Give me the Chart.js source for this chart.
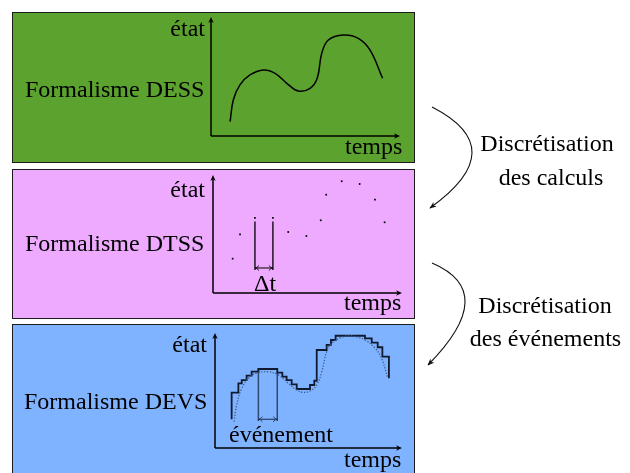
<!DOCTYPE html>
<html>
<head>
<meta charset="utf-8">
<script src="https://cdn.jsdelivr.net/npm/chart.js@4"></script>
<style>
  html, body { margin:0; padding:0; background:#ffffff; }
  body { width:630px; height:473px; position:relative; overflow:hidden; }
  .panel { position:absolute; box-sizing:border-box; border:1.5px solid #1c1c1c; }
  .box { position:absolute; }
  svg, #overlay { position:absolute; left:0; top:0; }
</style>
</head>
<body>
<div class="panel" style="left:12px;top:12px;width:403px;height:151px;background:#5ca22f;"></div>
<div class="panel" style="left:12px;top:168.5px;width:403px;height:150px;background:#eeaaff;"></div>
<div class="panel" style="left:12px;top:324px;width:403px;height:160px;background:#80b3ff;"></div>

<div class="box" style="left:205px;top:11px;width:201px;height:131px;"><canvas id="c1"></canvas></div>
<div class="box" style="left:207px;top:169px;width:201px;height:130px;"><canvas id="c2"></canvas></div>
<div class="box" style="left:209px;top:327px;width:199px;height:127px;"><canvas id="c3"></canvas></div>

<svg width="630" height="473" viewBox="0 0 630 473">
  <defs>
    <marker id="ah" viewBox="0 0 10 10" refX="9" refY="5" markerWidth="7" markerHeight="7" orient="auto" markerUnits="userSpaceOnUse">
      <path d="M0,1 L10,5 L0,9 L3,5 Z" fill="#111"/>
    </marker>
  </defs>
  <path d="M432,107 Q513,148.5 430,208" fill="none" stroke="#111" stroke-width="1.1" marker-end="url(#ah)"/>
  <path d="M432,263 Q500,292 428,365" fill="none" stroke="#111" stroke-width="1.1" marker-end="url(#ah)"/>
</svg>
<canvas id="overlay" width="630" height="473"></canvas>

<script>
// ---- DESS (continuous) ----
const dessTime  = [10.1, 11.8, 15.3, 20.6, 27.7, 33.9, 40.1, 46.2, 52.4, 56.2, 58.6, 62.1, 70.0, 77.9, 84.1, 90.8];
const dessState = [12.0, 30.3, 42.9, 51.3, 55.5, 52.7, 44.3, 37.8, 40.1, 48.5, 69.5, 80.7, 84.9, 82.1, 72.3, 48.5];

// ---- DTSS (sampled) ----
const dtssTime  = [10.4, 14.3, 22.2, 31.7, 39.8, 49.4, 57.0, 59.9, 68.1, 77.6, 85.7, 90.8];
const dtssState = [29.1, 49.7, 63.6, 63.6, 51.7, 48.3, 61.6, 83.3, 94.7, 92.4, 79.1, 59.9];
const dtMarkerTime = [22.2, 31.7];
const dtMarkerTop = 60.5, dtMarkerBottom = 19.5, dtArrowLevel = 21.2;

// ---- DEVS (events) ----
const devsCurveTime  = [10.2, 11.6, 14.3, 18.7, 23.2, 28.5, 33.9, 39.2, 43.7, 47.2, 50.8, 54.4, 57.1, 59.7, 62.4, 67.8, 73.1, 80.2, 85.6, 89.1, 92.4];
const devsCurveState = [22.9, 37.4, 51.9, 62.0, 65.5, 66.3, 63.5, 56.3, 50.4, 48.4, 49.6, 54.8, 66.3, 83.7, 91.0, 96.3, 97.4, 93.9, 86.7, 78.0, 60.6];
const devsStepTime  = [8.9, 8.9, 12.5, 14.3, 16.9, 19.6, 23.2, 33.3, 36.0, 38.3, 41.0, 43.7, 50.8, 53.1, 54.4, 59.7, 62.0, 64.5, 80.2, 83.8, 87.0, 89.5, 93.0];
const devsStepState = [25.0, 48.1, 56.2, 59.1, 62.9, 66.4, 68.7, 65.5, 62.0, 59.1, 55.4, 51.3, 54.8, 58.5, 85.2, 89.6, 93.9, 97.6, 95.4, 91.6, 87.6, 79.4, 60.6];
const eventMarkerTime = [23.2, 33.3];
const eventMarkerTop = [68.7, 65.5], eventMarkerBottom = 23.5, eventArrowLevel = 25.0;

// ---- Labels ----
const panelTitles = ['Formalisme DESS', 'Formalisme DTSS', 'Formalisme DEVS'];
const axisY = 'état', axisX = 'temps';
const stepLabels = [['Discrétisation', 'des calculs'], ['Discrétisation', 'des événements']];

const xy = (xs, ys) => xs.map((x, i) => ({x: x, y: ys[i]}));

function arrowHead(ctx, x, y, dir, size) {
  ctx.save();
  ctx.translate(x, y);
  ctx.rotate(dir);
  ctx.beginPath();
  ctx.moveTo(0, 0);
  ctx.lineTo(-size, -size * 0.45);
  ctx.lineTo(-size * 0.7, 0);
  ctx.lineTo(-size, size * 0.45);
  ctx.closePath();
  ctx.fill();
  ctx.restore();
}

const axesPlugin = {
  id: 'axesArrows',
  afterDraw(chart) {
    const {ctx, chartArea: a} = chart;
    ctx.save();
    ctx.strokeStyle = '#000';
    ctx.fillStyle = '#000';
    ctx.lineWidth = 1.5;
    ctx.beginPath();
    ctx.moveTo(a.left, a.bottom);
    ctx.lineTo(a.right - 2, a.bottom);
    ctx.moveTo(a.left, a.bottom);
    ctx.lineTo(a.left, a.top + 2);
    ctx.stroke();
    arrowHead(ctx, a.right, a.bottom, 0, 6);
    arrowHead(ctx, a.left, a.top, -Math.PI / 2, 6);
    ctx.restore();
  }
};

function markerPlugin(times, level, color) {
  return {
    id: 'markerArrows',
    afterDatasetsDraw(chart) {
      const {ctx, scales} = chart;
      const x1 = scales.x.getPixelForValue(times[0]);
      const x2 = scales.x.getPixelForValue(times[1]);
      const y = scales.y.getPixelForValue(level);
      ctx.save();
      ctx.strokeStyle = color;
      ctx.lineWidth = 1;
      ctx.beginPath();
      ctx.moveTo(x1 + 2, y);
      ctx.lineTo(x2 - 2, y);
      ctx.stroke();
      ctx.lineWidth = 0.9;
      ctx.beginPath();
      ctx.moveTo(x1 + 4, y - 2.5); ctx.quadraticCurveTo(x1 + 2, y, x1, y); ctx.quadraticCurveTo(x1 + 2, y, x1 + 4, y + 2.5);
      ctx.moveTo(x2 - 4, y - 2.5); ctx.quadraticCurveTo(x2 - 2, y, x2, y); ctx.quadraticCurveTo(x2 - 2, y, x2 - 4, y + 2.5);
      ctx.stroke();
      ctx.restore();
    }
  };
}

function baseOptions() {
  return {
    responsive: true,
    maintainAspectRatio: false,
    animation: false,
    events: [],
    layout: { padding: 6 },
    plugins: { legend: { display: false }, tooltip: { enabled: false } },
    scales: {
      x: { type: 'linear', min: 0, max: 100, display: false },
      y: { type: 'linear', min: 0, max: 100, display: false }
    }
  };
}

new Chart(document.getElementById('c1'), {
  type: 'line',
  data: { datasets: [{
    data: xy(dessTime, dessState),
    borderColor: '#000', borderWidth: 1.5, pointRadius: 0, tension: 0.4, fill: false
  }]},
  options: baseOptions(),
  plugins: [axesPlugin]
});

new Chart(document.getElementById('c2'), {
  type: 'line',
  data: { datasets: [
    { data: xy(dtssTime, dtssState), showLine: false, pointRadius: 1.2, pointStyle: 'rect',
      pointBackgroundColor: '#000', pointBorderColor: '#000', pointBorderWidth: 0 },
    { data: [{x: dtMarkerTime[0], y: dtMarkerTop}, {x: dtMarkerTime[0], y: dtMarkerBottom}],
      borderColor: '#000', borderWidth: 1.3, pointRadius: 0 },
    { data: [{x: dtMarkerTime[1], y: dtMarkerTop}, {x: dtMarkerTime[1], y: dtMarkerBottom}],
      borderColor: '#000', borderWidth: 1.3, pointRadius: 0 }
  ]},
  options: baseOptions(),
  plugins: [axesPlugin, markerPlugin(dtMarkerTime, dtArrowLevel, '#000')]
});

new Chart(document.getElementById('c3'), {
  type: 'line',
  data: { datasets: [
    { data: xy(devsCurveTime, devsCurveState), borderColor: '#3e5b8c', borderWidth: 1.3,
      borderDash: [1.3, 1.6], pointRadius: 0, tension: 0.4 },
    { data: xy(devsStepTime, devsStepState), borderColor: '#0f1a30', borderWidth: 1.8,
      pointRadius: 0, stepped: true },
    { data: [{x: eventMarkerTime[0], y: eventMarkerTop[0]}, {x: eventMarkerTime[0], y: eventMarkerBottom}],
      borderColor: '#2e4870', borderWidth: 1.5, pointRadius: 0 },
    { data: [{x: eventMarkerTime[1], y: eventMarkerTop[1]}, {x: eventMarkerTime[1], y: eventMarkerBottom}],
      borderColor: '#2e4870', borderWidth: 1.5, pointRadius: 0 }
  ]},
  options: baseOptions(),
  plugins: [axesPlugin, markerPlugin(eventMarkerTime, eventArrowLevel, '#1a2a48')]
});

// ---- text layer ----
const oc = document.getElementById('overlay').getContext('2d');
oc.fillStyle = '#000';
oc.textBaseline = 'alphabetic';
oc.font = '24px "Liberation Serif", "DejaVu Serif", serif';
function txt(s, x, y, align) { oc.textAlign = align || 'left'; oc.fillText(s, x, y); }
txt(panelTitles[0], 25, 97);
txt(panelTitles[1], 25, 251);
txt(panelTitles[2], 24, 409);
txt(axisY, 205, 36, 'right');
txt(axisY, 205, 197, 'right');
txt(axisY, 207, 352, 'right');
txt(axisX, 345, 154);
txt(axisX, 344, 310);
txt(axisX, 344, 467);
txt('Δt', 254, 291);
txt('événement', 229, 442);
txt(stepLabels[0][0], 547, 151, 'center');
txt(stepLabels[0][1], 551, 185, 'center');
txt(stepLabels[1][0], 545, 313, 'center');
txt(stepLabels[1][1], 545.5, 346, 'center');
</script>
</body>
</html>
